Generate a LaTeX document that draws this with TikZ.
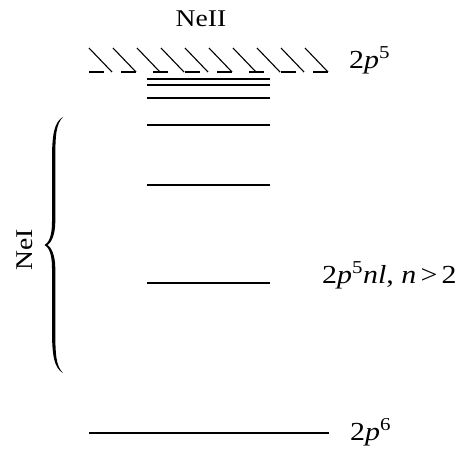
\documentclass[tikz,border=0pt]{standalone}
\usepackage{fontspec}
\setmainfont[FakeStretch=1.15]{Liberation Serif}
\begin{document}
\begin{tikzpicture}[x=1pt,y=-1pt,
  lvl/.style={line width=2pt},
  hatch/.style={line width=1.1pt},
  ionlbl/.style={inner sep=0pt,font=\fontsize{24}{28}\selectfont},
  lbl/.style={inner sep=0pt,anchor=base west,font=\fontsize{26}{30}\selectfont}]
\useasboundingbox (0,0) rectangle (462,448);
% hatched continuum boundary
\foreach \k in {0,...,9}{
  \draw[hatch] ({89+24*\k},48) -- ({112+24*\k},72);
}
\foreach \k in {0,...,7}{
  \draw[lvl] ({89+32*\k},72) -- ({104+32*\k},72);
}
% levels
\foreach \yy in {79,85,98,125,185,283}{
  \draw[lvl] (147,\yy) -- (270,\yy);
}
\draw[lvl] (89,433) -- (329,433);
% brace
\fill (63,117) .. controls (54,122) and (52,135) .. (52,160) -- (52,222)
  .. controls (52,238) and (48,243) .. (44.5,245)
  .. controls (48,247) and (52,252) .. (52,268) -- (52,330)
  .. controls (52,355) and (54,368) .. (63,373)
  .. controls (56,366) and (55.3,355) .. (55.3,330) -- (55.3,268)
  .. controls (55.3,255) and (51,247) .. (47.5,245)
  .. controls (51,243) and (55.3,235) .. (55.3,222) -- (55.3,160)
  .. controls (55.3,135) and (56,124) .. (63,117) -- cycle;
% labels
\node[ionlbl,anchor=base] (neii) at (201,26) {NeII};
\node[lbl] (top) at (349,68) {2\textit{p}\textsuperscript{5}};
\node[lbl] (mid) at (322,283) {2\textit{p}\textsuperscript{5}\textit{nl}, \textit{n}\,>\,2};
\node[lbl] (gnd) at (350,440) {2\textit{p}\textsuperscript{6}};
\node[ionlbl,rotate=90] (nei) at (25,250) {NeI};
\end{tikzpicture}
\end{document}
